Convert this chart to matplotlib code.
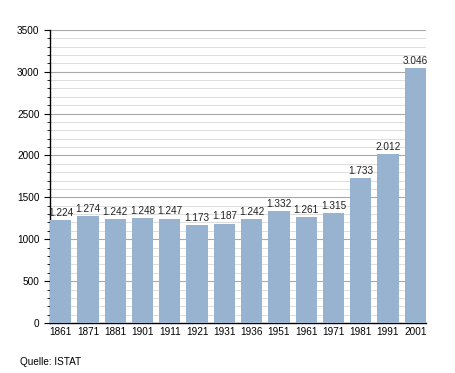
import numpy as np
import matplotlib.pyplot as plt
from matplotlib.ticker import MultipleLocator

plt.rcParams['font.family'] = ['Liberation Sans', 'DejaVu Sans']

jahre = ['1861', '1871', '1881', '1901', '1911', '1921', '1931', '1936',
         '1951', '1961', '1971', '1981', '1991', '2001']
einwohner = [1224, 1274, 1242, 1248, 1247, 1173, 1187, 1242,
             1332, 1261, 1315, 1733, 2012, 3046]

fig = plt.figure(figsize=(4.55, 3.73), dpi=100)
ax = fig.add_axes([0.110, 0.134, 0.826, 0.786])

x = np.arange(len(jahre))
ax.bar(x, einwohner, width=0.78, color='#98b3d0', zorder=3)

for xi, v in zip(x, einwohner):
    lbl = f'{v:,}'.replace(',', '.')
    ax.text(xi, v + 25, lbl, ha='center', va='bottom', fontsize=7.2, color='#222222', zorder=4)

ax.set_xlim(-0.39, len(jahre) - 0.61)
ax.set_ylim(0, 3500)
ax.yaxis.set_major_locator(MultipleLocator(500))
ax.yaxis.set_minor_locator(MultipleLocator(100))
ax.grid(which='major', axis='y', color='#a8a8a8', linewidth=0.8, zorder=0)
ax.grid(which='minor', axis='y', color='#dddddd', linewidth=0.7, zorder=0)

ax.set_xticks(x)
ax.set_xticklabels(jahre, fontsize=7.2)
ax.tick_params(axis='x', length=0, pad=3)
ax.tick_params(axis='y', which='major', labelsize=7.2, length=4, direction='out')
ax.tick_params(axis='y', which='minor', length=2.5, direction='out')

for s in ['top', 'right']:
    ax.spines[s].set_visible(False)
ax.spines['left'].set_linewidth(1.0)
ax.spines['bottom'].set_linewidth(1.0)

fig.text(20 / 455, 1 - 362 / 373, 'Quelle: ISTAT', fontsize=7.2, va='center', ha='left')

fig.savefig('out.png', dpi=100)
